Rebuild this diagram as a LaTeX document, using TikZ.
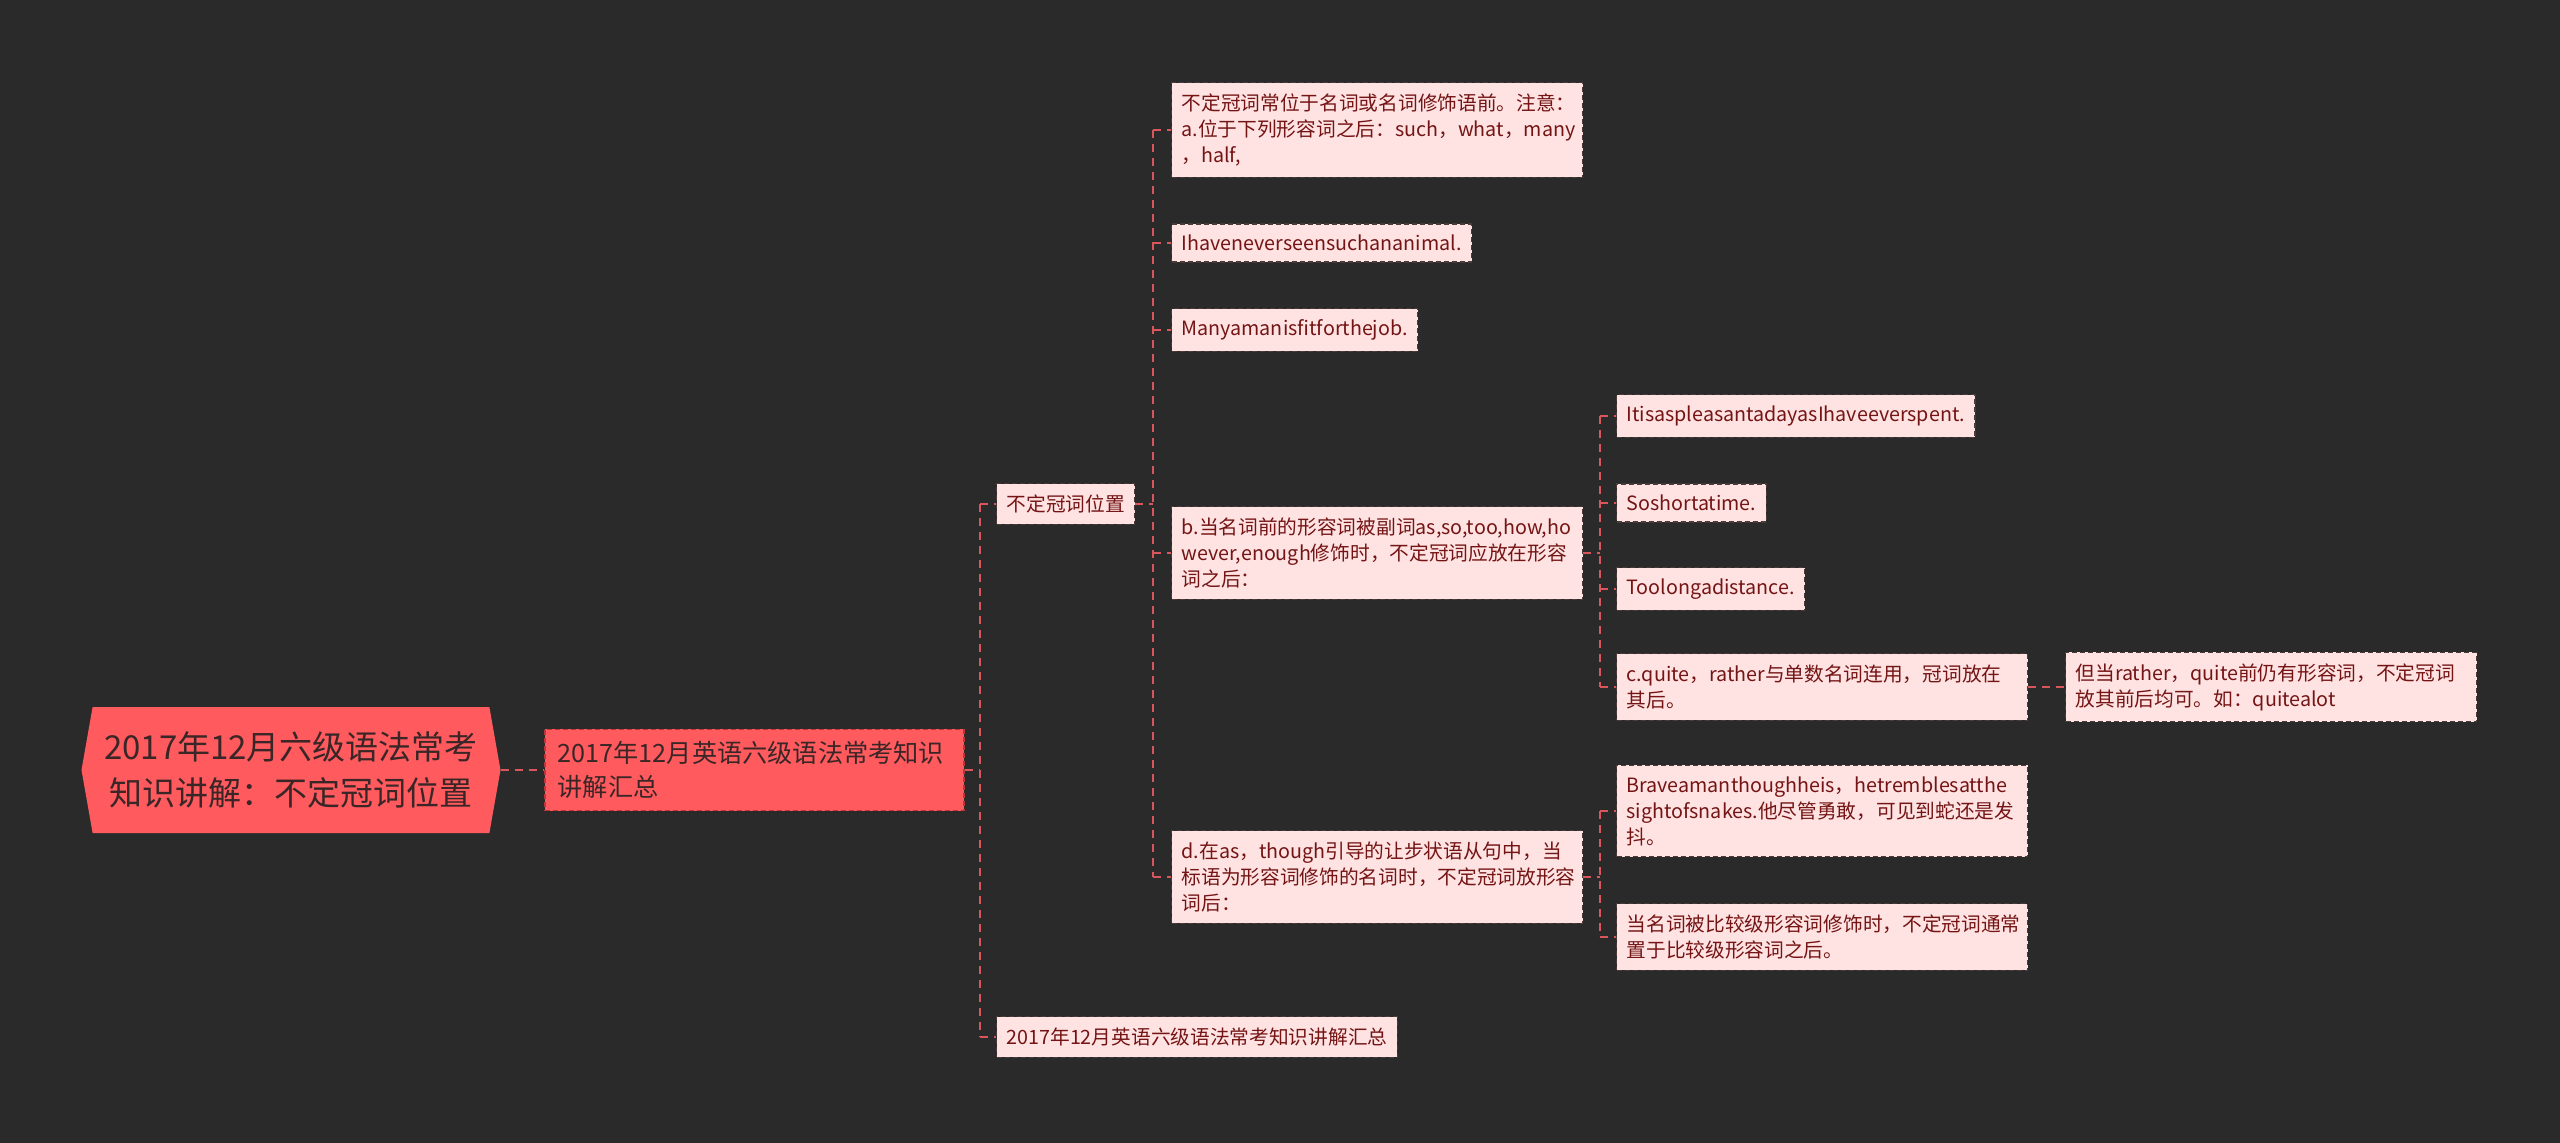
\documentclass[tikz,border=0pt]{standalone}
\usepackage{fontspec}
\setmainfont{Noto Sans CJK SC}
\usetikzlibrary{shapes.symbols}
\definecolor{bg}{HTML}{2A2A2A}
\definecolor{coral}{HTML}{FF5A5E}
\definecolor{coralline}{HTML}{B8373C}
\definecolor{linkc}{HTML}{D9575C}
\definecolor{leaffill}{HTML}{FFE3E3}
\definecolor{leafline}{HTML}{4A3A3A}
\definecolor{leaftext}{HTML}{741414}
\definecolor{roottext}{HTML}{3A2626}
\newcommand {\feed}[2] {\draw[link] (#1.east) -- (#2 |- #1.east);}
\newcommand {\trunk}[3] {\draw[link] (#1 |- #2.west) -- (#1 |- #3.west);}
\newcommand {\twig}[2] {\draw[link] (#1 |- #2.west) -- (#2.west);}

\begin{document}
\begin{tikzpicture}[x=1pt,y=-1pt,
	link/.style={draw=linkc, line width=2pt, dash pattern=on 8pt off 6pt},
	root/.style={signal, signal to=east and west, signal pointer angle=160, fill=coral, text=roottext,
		minimum width=419pt, minimum height=126pt, align=center, font=\fontsize{33}{46}\selectfont},
	summary/.style={anchor=west, fill=coral, draw=coralline, line width=1.5pt, dash pattern=on 5pt off 3pt,
		text=roottext, text width=393pt, inner xsep=13pt, inner ysep=12pt, align=left, font=\fontsize{25.2}{34}\selectfont},
	leaf/.style={anchor=west, fill=leaffill, draw=leafline, line width=1.2pt, dash pattern=on 5pt off 3pt,
		text=leaftext, inner xsep=10pt, inner ysep=11pt, align=left, font=\fontsize{19.7}{26}\selectfont},
	wide/.style={leaf, text width=391pt}]
	\fill[bg] (0,0) rectangle (2560,1143);
	\useasboundingbox (0,0) rectangle (2560,1143);
	% nodes
	\node[root] (root) at (291,770) {2017年12月六级语法常考\\知识讲解：不定冠词位置};
	\node[summary] (sum) at (544,770) {2017年12月英语六级语法常考知识\\讲解汇总};
	\node[leaf] (pos) at (996,504) {不定冠词位置};
	\node[leaf] (all) at (996,1037) {2017年12月英语六级语法常考知识讲解汇总};
	\node[wide] (ra) at (1171,130) {不定冠词常位于名词或名词修饰语前。注意：\\a.位于下列形容词之后：such，what，many\\，half,};
	\node[leaf] (ex1) at (1171,243) {Ihaveneverseensuchananimal.};
	\node[leaf] (ex2) at (1171,330) {Manyamanisfitforthejob.};
	\node[wide] (rb) at (1171,553) {b.当名词前的形容词被副词as,so,too,how,ho\\wever,enough修饰时，不定冠词应放在形容\\词之后：};
	\node[wide] (rd) at (1171,877) {d.在as，though引导的让步状语从句中，当\\标语为形容词修饰的名词时，不定冠词放形容\\词后：};
	\node[leaf] (b1) at (1616,416) {ItisaspleasantadayasIhaveeverspent.};
	\node[leaf] (b2) at (1616,503) {Soshortatime.};
	\node[leaf] (b3) at (1616,589) {Toolongadistance.};
	\node[wide] (rc) at (1616,687) {c.quite，rather与单数名词连用，冠词放在\\其后。};
	\node[wide] (rcx) at (2065,687) {但当rather，quite前仍有形容词，不定冠词\\放其前后均可。如：quitealot};
	\node[wide] (d1) at (1616,811) {Braveamanthoughheis，hetremblesatthe\\sightofsnakes.他尽管勇敢，可见到蛇还是发\\抖。};
	\node[wide] (d2) at (1616,937) {当名词被比较级形容词修饰时，不定冠词通常\\置于比较级形容词之后。};
	% trunks
	\coordinate (t1) at (980,0);
	\coordinate (t2) at (1153,0);
	\coordinate (t3) at (1600,0);
	% links
	\draw[link] (root.east) -- (sum.west);
	\feed{sum}{t1}
	\trunk{t1}{pos}{all}
	\twig{t1}{pos} \twig{t1}{all}
	\feed{pos}{t2}
	\trunk{t2}{ra}{rd}
	\twig{t2}{ra} \twig{t2}{ex1} \twig{t2}{ex2} \twig{t2}{rb} \twig{t2}{rd}
	\feed{rb}{t3}
	\trunk{t3}{b1}{rc}
	\twig{t3}{b1} \twig{t3}{b2} \twig{t3}{b3} \twig{t3}{rc}
	\draw[link] (rc.east) -- (rcx.west);
	\feed{rd}{t3}
	\trunk{t3}{d1}{d2}
	\twig{t3}{d1} \twig{t3}{d2}
\end{tikzpicture}
\end{document}
